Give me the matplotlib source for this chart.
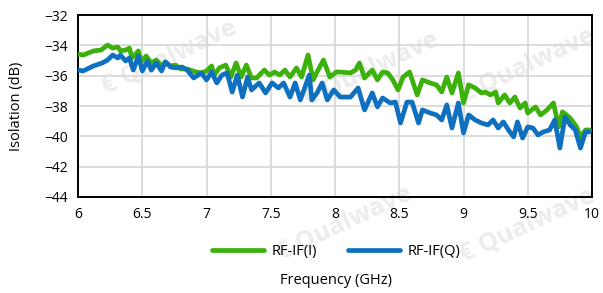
import matplotlib
matplotlib.use("Agg")
import matplotlib.pyplot as plt

# ---- data ----
freq_i = [6.00, 6.04, 6.12, 6.18, 6.23, 6.27, 6.31, 6.33, 6.37, 6.40, 6.42, 6.47, 6.49, 6.53,
          6.57, 6.61, 6.65, 6.68, 6.72, 6.76, 6.80, 6.85, 6.92, 6.96, 7.00, 7.04, 7.06, 7.10,
          7.15, 7.19, 7.23, 7.27, 7.31, 7.35, 7.39, 7.45, 7.49, 7.53, 7.57, 7.61, 7.65, 7.70,
          7.74, 7.79, 7.83, 7.86, 7.91, 7.96, 8.01, 8.04, 8.12, 8.16, 8.19, 8.23, 8.29, 8.33,
          8.37, 8.41, 8.45, 8.49, 8.53, 8.58, 8.64, 8.68, 8.74, 8.79, 8.83, 8.87, 8.91, 8.96,
          9.00, 9.04, 9.09, 9.14, 9.17, 9.21, 9.25, 9.27, 9.32, 9.36, 9.40, 9.44, 9.48, 9.50,
          9.56, 9.60, 9.65, 9.70, 9.74, 9.77, 9.83, 9.88, 9.91, 9.95, 9.98]
iso_i = [-34.57, -34.64, -34.37, -34.31, -33.98, -34.18, -34.11, -34.37, -34.31, -34.18, -34.83,
         -34.37, -35.10, -34.70, -35.16, -34.97, -35.36, -35.10, -35.36, -35.30, -35.56, -35.56,
         -35.76, -35.82, -35.69, -35.36, -35.96, -35.49, -35.30, -36.09, -35.16, -36.09, -35.30,
         -36.15, -36.15, -35.63, -35.96, -35.76, -35.96, -35.63, -36.09, -35.49, -36.09, -34.64,
         -36.28, -35.76, -34.97, -36.09, -35.76, -35.76, -35.82, -35.63, -35.16, -36.15, -35.63,
         -36.28, -35.76, -35.82, -36.28, -36.94, -36.09, -35.76, -37.27, -36.28, -36.48, -36.61,
         -37.08, -36.09, -37.14, -35.82, -37.80, -36.61, -36.81, -37.14, -37.08, -37.27, -37.08,
         -37.80, -37.27, -37.80, -37.41, -38.13, -37.80, -38.46, -38.06, -38.59, -38.26, -37.80,
         -39.38, -38.39, -38.79, -39.38, -40.04, -39.58, -39.58]

freq_q = [6.00, 6.04, 6.12, 6.19, 6.23, 6.27, 6.31, 6.33, 6.37, 6.40, 6.43, 6.47, 6.50, 6.54,
          6.57, 6.61, 6.65, 6.68, 6.72, 6.77, 6.81, 6.85, 6.90, 6.96, 7.00, 7.04, 7.08, 7.12,
          7.16, 7.20, 7.24, 7.28, 7.32, 7.35, 7.41, 7.46, 7.51, 7.56, 7.60, 7.65, 7.69, 7.73,
          7.80, 7.82, 7.86, 7.90, 7.94, 7.99, 8.04, 8.12, 8.18, 8.23, 8.29, 8.33, 8.37, 8.43,
          8.47, 8.51, 8.56, 8.60, 8.65, 8.68, 8.74, 8.79, 8.83, 8.87, 8.91, 8.96, 9.00, 9.04,
          9.09, 9.14, 9.19, 9.23, 9.27, 9.31, 9.35, 9.39, 9.42, 9.46, 9.50, 9.54, 9.58, 9.62,
          9.67, 9.71, 9.75, 9.79, 9.83, 9.87, 9.91, 9.95, 9.98]
iso_q = [-35.63, -35.69, -35.36, -35.16, -34.97, -34.64, -34.83, -34.64, -35.03, -34.83, -35.63,
         -34.70, -35.69, -35.03, -35.63, -35.16, -35.69, -35.10, -35.43, -35.49, -35.43, -35.63,
         -36.15, -35.82, -36.28, -35.76, -36.48, -35.96, -35.82, -37.08, -35.96, -37.41, -36.09,
         -36.94, -36.48, -37.14, -36.48, -36.81, -36.48, -37.41, -36.48, -37.60, -35.96, -37.60,
         -37.14, -36.48, -37.60, -36.94, -37.41, -37.41, -36.81, -38.26, -37.14, -38.06, -37.47,
         -37.80, -37.74, -39.12, -37.74, -37.74, -39.12, -38.26, -38.46, -38.59, -38.92, -37.93,
         -39.45, -37.80, -39.78, -38.59, -38.92, -39.12, -39.25, -38.92, -39.45, -39.05, -39.58,
         -40.04, -39.05, -40.11, -39.38, -39.45, -39.91, -39.71, -39.58, -38.92, -40.77, -38.72,
         -39.25, -39.58, -40.77, -39.71, -39.71]

series_labels = ["RF-IF(I)", "RF-IF(Q)"]
xticks = [6, 6.5, 7, 7.5, 8, 8.5, 9, 9.5, 10]
xtick_labels = ["6", "6.5", "7", "7.5", "8", "8.5", "9", "9.5", "10"]
yticks = [-44, -42, -40, -38, -36, -34, -32]

GREEN = "#3CB10C"
BLUE = "#0E70BE"

plt.rcParams['font.family'] = ['Open Sans', 'DejaVu Sans']

fig = plt.figure(figsize=(6.03, 2.93), dpi=100)
fig.patch.set_facecolor("white")
ax = fig.add_axes([78/603, 1-197/293, (592-78)/603, (197-15)/293])
ax.patch.set_alpha(0)

# watermarks
wm = [(170, 58), (372, 70), (528, 66), (345, 224), (528, 226)]
for (px, py) in wm:
    fig.text(px/603, 1-py/293, "€ Qualwave", rotation=25, ha="center", va="center",
             fontsize=18, fontweight="bold", color="#ececec", zorder=-5)

ax.plot(freq_i, iso_i, color=GREEN, lw=3.4, label=series_labels[0], solid_joinstyle="round",
        solid_capstyle="round", zorder=3)
ax.plot(freq_q, iso_q, color=BLUE, lw=3.4, label=series_labels[1], solid_joinstyle="round",
        solid_capstyle="round", zorder=3)

ax.set_xlim(6, 10)
ax.set_ylim(-44, -32)
ax.set_xticks(xticks)
ax.set_xticklabels(xtick_labels)
ax.set_yticks(yticks)
ax.grid(True, color="#d9d9d9", lw=1.3)
ax.set_axisbelow(True)
for s in ax.spines.values():
    s.set_color("black")
    s.set_linewidth(1.4)
ax.tick_params(length=0, labelsize=10, pad=7)

ax.set_ylabel("Isolation (dB)", fontsize=10.5)
ax.yaxis.set_label_coords(-0.105, 0.5)
fig.text(336/603, 1-280/293, "Frequency (GHz)", ha="center", va="center", fontsize=10.5)

fig.legend(loc="center", bbox_to_anchor=(336/603, 1-252/293), ncol=2, frameon=False,
           fontsize=10.5, handlelength=3.6, columnspacing=2.1, handletextpad=0.5)

fig.savefig("out.png", dpi=100)
